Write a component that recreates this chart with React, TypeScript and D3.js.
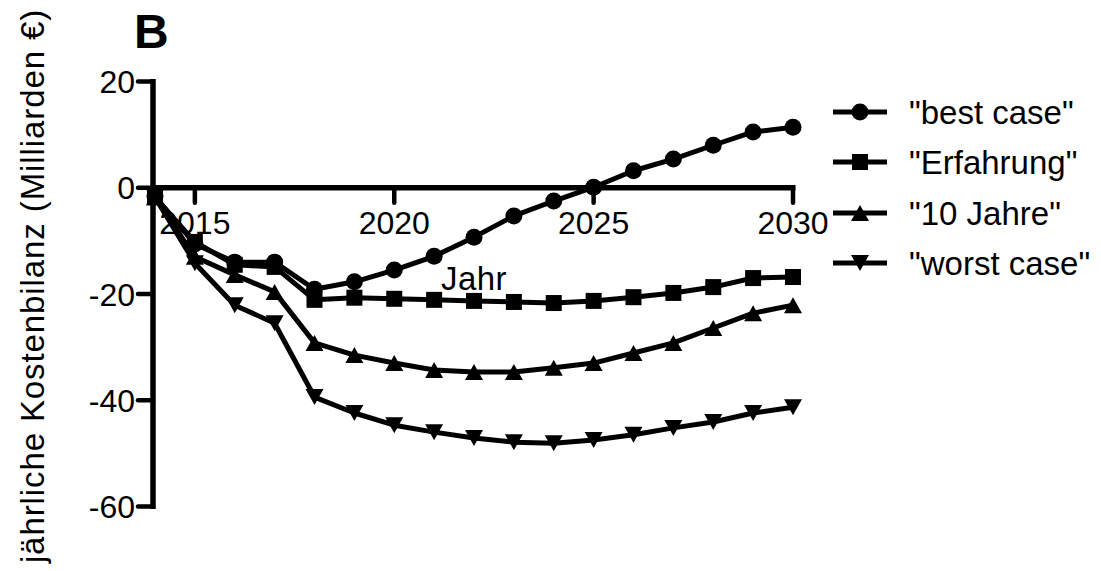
import React from "react";
import * as d3 from "d3";

// Jahre 2014–2030
const years: number[] = d3.range(2014, 2031);

const bestCase: number[] = [-1.6, -10.6, -14.0, -14.0, -19.1, -17.7, -15.5, -12.9, -9.3, -5.3, -2.5, 0.1, 3.2, 5.4, 8.0, 10.5, 11.4];
const erfahrung: number[] = [-1.8, -10.2, -14.5, -14.9, -21.1, -20.7, -20.9, -21.1, -21.3, -21.5, -21.7, -21.3, -20.6, -19.8, -18.7, -17.0, -16.8];
const zehnJahre: number[] = [-1.8, -13.0, -16.4, -19.6, -29.2, -31.5, -33.0, -34.3, -34.7, -34.7, -33.9, -33.0, -31.1, -29.2, -26.4, -23.6, -22.1];
const worstCase: number[] = [-1.8, -14.2, -22.1, -25.5, -39.4, -42.4, -44.7, -46.0, -47.1, -47.9, -48.1, -47.5, -46.5, -45.2, -44.1, -42.4, -41.3];

const seriesNames: string[] = ['"best case"', '"Erfahrung"', '"10 Jahre"', '"worst case"'];
const seriesShapes: string[] = ["circle", "square", "up", "down"];

const yTicks: number[] = [20, 0, -20, -40, -60];
const xTicks: number[] = [2015, 2020, 2025, 2030];

const FONT = "'Liberation Sans', Arial, Helvetica, sans-serif";

function Marker({ shape, x, y }: { shape: string; x: number; y: number }) {
  if (shape === "circle") return <circle cx={x} cy={y} r={8.5} fill="#000" />;
  if (shape === "square") return <rect x={x - 8} y={y - 8} width={16} height={16} fill="#000" />;
  const w = 9;
  const h = 8;
  if (shape === "up")
    return <path d={`M${x},${y - h}L${x + w},${y + h}L${x - w},${y + h}Z`} fill="#000" />;
  return <path d={`M${x},${y + h}L${x + w},${y - h}L${x - w},${y - h}Z`} fill="#000" />;
}

export default function App() {
  const width = 1101;
  const height = 571;

  const x = d3.scaleLinear().domain([2013.95, 2030]).range([153, 793]);
  const y = d3.scaleLinear().domain([-60, 20]).range([506.5, 81.5]);

  const allSeries = [bestCase, erfahrung, zehnJahre, worstCase];
  const line = d3
    .line<number>()
    .x((_, i) => x(years[i]))
    .y((d) => y(d));

  const axisX = x.range()[0];
  const zeroY = y(0);

  const legendRows = [112, 162, 213, 263];

  return (
    <svg
      width={width}
      height={height}
      style={{ position: "absolute", left: 0, top: 0, background: "#fff" }}
      fontFamily={FONT}
    >
      <rect width={width} height={height} fill="#fff" />

      {/* Panel letter */}
      <text x={134} y={48} fontSize={48} fontWeight="bold">
        B
      </text>

      {/* Y axis title */}
      <text
        transform={`translate(44,${286}) rotate(-90)`}
        textAnchor="middle"
        fontSize={33}
        letterSpacing={0.9}
      >
        jährliche Kostenbilanz (Milliarden €)
      </text>

      {/* Series */}
      {allSeries.map((vals, si) => (
        <g key={si}>
          <path d={line(vals) ?? ""} fill="none" stroke="#000" strokeWidth={5} strokeLinejoin="round" />
          {vals.map((v, i) => (
            <Marker key={i} shape={seriesShapes[si]} x={x(years[i])} y={y(v)} />
          ))}
        </g>
      ))}

      {/* Y axis */}
      <line x1={axisX} x2={axisX} y1={y(20) - 2.5} y2={y(-60) + 2.5} stroke="#000" strokeWidth={5.5} />
      {yTicks.map((t) => (
        <g key={t}>
          <line x1={axisX - 15} x2={axisX} y1={y(t)} y2={y(t)} stroke="#000" strokeWidth={4.5} strokeLinecap="round" />
          <text x={135} y={y(t) + 11.5} textAnchor="end" fontSize={32}>
            {t}
          </text>
        </g>
      ))}

      {/* X axis along zero */}
      <line x1={axisX} x2={x(2030) + 2.5} y1={zeroY} y2={zeroY} stroke="#000" strokeWidth={5.5} />
      {xTicks.map((t) => (
        <g key={t}>
          <line x1={x(t)} x2={x(t)} y1={zeroY} y2={zeroY + 15} stroke="#000" strokeWidth={4.5} strokeLinecap="round" />
          <text x={x(t)} y={zeroY + 46} textAnchor="middle" fontSize={32}>
            {t}
          </text>
        </g>
      ))}
      <text x={474} y={290} textAnchor="middle" fontSize={33} letterSpacing={0.5}>
        Jahr
      </text>

      {/* Legend */}
      {seriesNames.map((name, i) => (
        <g key={name}>
          <line x1={833} x2={887} y1={legendRows[i]} y2={legendRows[i]} stroke="#000" strokeWidth={5} />
          <Marker shape={seriesShapes[i]} x={860} y={legendRows[i]} />
          <text x={909} y={legendRows[i] + 12} fontSize={33}>
            {name}
          </text>
        </g>
      ))}
    </svg>
  );
}
